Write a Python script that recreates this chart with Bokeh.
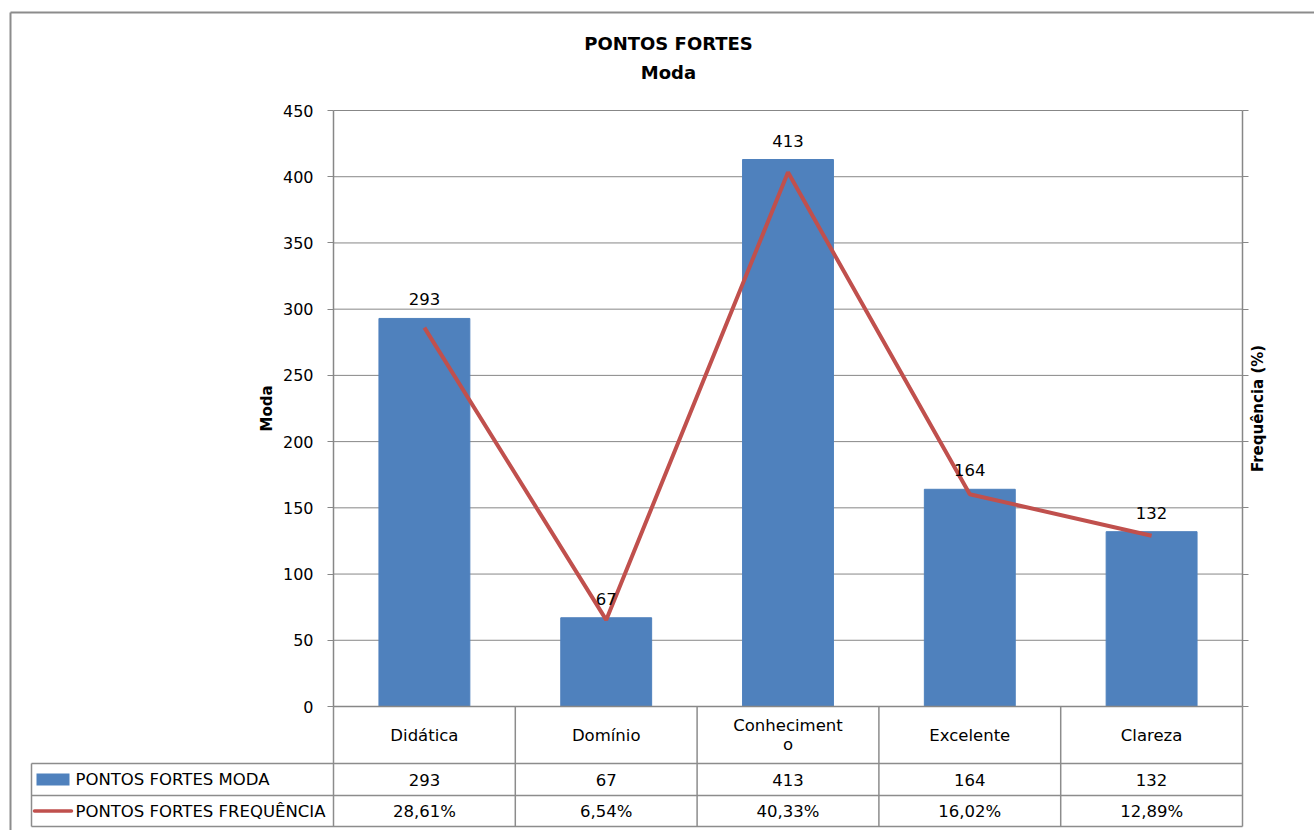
import math
from bokeh.plotting import figure
from bokeh.models import (Range1d, LinearAxis, SingleIntervalTicker, ColumnDataSource,
                          LabelSet, CustomLabelingPolicy)
from bokeh.core.properties import value
from bokeh.embed import file_html
from bokeh.resources import INLINE

# ---------------- data ----------------
categories = ["Didática", "Domínio", "Conhecimento", "Excelente", "Clareza"]
moda = [293, 67, 413, 164, 132]
frequencia = [28.61, 6.54, 40.33, 16.02, 12.89]
series_names = ["PONTOS FORTES MODA", "PONTOS FORTES FREQUÊNCIA"]
title_lines = ["PONTOS FORTES", "Moda"]
y_label = "Moda"
y2_label = "Frequência (%)"
y_max, y_step = 450, 50
y2_max, y2_step = 45, 5

# ---------------- style / layout ----------------
FONT = "DejaVu Sans"
GRID = "#878787"
TGRAY = "#8c8c8c"
BAR = "#4f81bd"
LINE = "#c0504d"
FS = "16.5px"

W, H = 1314, 830
PL, PR, PT, PB = 333, 1242, 110, 706          # plot area (px)
XS = (PR - PL) / len(categories)              # px per category
YS = (PB - PT) / y_max                        # px per unit
ROWS = [706, 763, 795, 826]                   # data-table row borders (px)
LEFTCOL = 31


def xd(px):
    return -0.5 + (px - PL) / XS


def yd(py):
    return (PB - py) / YS


def wrap(s, n=11):
    return "\n".join(s[i:i + n] for i in range(0, len(s), n))


def fmt_pct(v):
    return ("%.2f" % v).replace(".", ",") + "%"


xs_idx = list(range(len(categories)))
n = len(categories)

p = figure(width=W, height=H, x_range=Range1d(xd(0), xd(W)), y_range=Range1d(yd(H), yd(0)),
           output_backend="svg", toolbar_location=None,
           x_axis_location=None, y_axis_location=None, min_border=0)
p.extra_y_ranges = {"freq": Range1d(yd(H) * y2_max / y_max, yd(0) * y2_max / y_max)}
p.outline_line_color = None
p.xgrid.visible = False
p.ygrid.visible = False
p.background_fill_color = "white"
p.border_fill_color = "white"

# ---------------- axes ----------------
ax1 = LinearAxis(fixed_location=-0.5, bounds=(0, y_max),
                 ticker=SingleIntervalTicker(interval=y_step),
                 major_label_text_font=FONT, major_label_text_font_size="16px",
                 major_label_text_color="black", major_label_standoff=14,
                 major_tick_in=0, major_tick_out=6, minor_tick_line_color=None,
                 axis_line_color=GRID, major_tick_line_color=GRID, axis_line_width=1.5)
p.add_layout(ax1, "left")
ax2 = LinearAxis(y_range_name="freq", fixed_location=n - 0.5,
                 bounds=(0, y2_max), ticker=SingleIntervalTicker(interval=y2_step),
                 major_label_policy=CustomLabelingPolicy(code="return new Set()"),
                 major_label_text_font=FONT, major_label_standoff=0,
                 major_tick_in=0, major_tick_out=6, minor_tick_line_color=None,
                 axis_line_color=GRID, major_tick_line_color=GRID, axis_line_width=1.5)
p.add_layout(ax2, "right")

# gridlines across the plot area only
grid_vals = list(range(y_step, y_max + 1, y_step))
p.segment(x0=[-0.5] * len(grid_vals), x1=[n - 0.5] * len(grid_vals),
          y0=grid_vals, y1=grid_vals, line_color=GRID, line_width=1)

# ---------------- series ----------------
src = ColumnDataSource(dict(x=xs_idx, cat=categories, moda=moda, freq=frequencia,
                            moda_txt=[str(v) for v in moda]))
p.vbar(x="x", top="moda", width=0.5, source=src, fill_color=BAR, line_color=BAR)
p.line(x="x", y="freq", source=src, y_range_name="freq", line_color=LINE, line_width=4)
p.add_layout(LabelSet(x="x", y="moda", text="moda_txt", source=src,
                      text_align="center", text_baseline="middle", y_offset=19,
                      text_font=value(FONT), text_font_size=value(FS),
                      text_color="black"))

# ---------------- titles ----------------
p.text(x=[xd(668)] * 2, y=[yd(43), yd(72)], text=title_lines, text_align="center",
       text_baseline="middle", text_font=value(FONT), text_font_style="bold",
       text_font_size="18px", text_color="black")
p.text(x=[xd(266), xd(1257)], y=[yd(408), yd(408)], text=[y_label, y2_label],
       angle=math.pi / 2, text_align="center", text_baseline="middle",
       text_font=value(FONT), text_font_style="bold", text_font_size="15px",
       text_color="black")

# ---------------- data table ----------------
p.segment(x0=[-0.5], x1=[n - 0.5], y0=[0], y1=[0], line_color=GRID, line_width=1.5)
hy = [yd(r) for r in ROWS[1:]]
p.segment(x0=[xd(LEFTCOL)] * 3, x1=[n - 0.5] * 3, y0=hy, y1=hy,
          line_color=TGRAY, line_width=1.5)
vx = [k - 0.5 for k in range(n + 1)]
p.segment(x0=vx, x1=vx, y0=[0] * len(vx), y1=[yd(ROWS[3])] * len(vx),
          line_color=TGRAY, line_width=1.5)
p.segment(x0=[xd(LEFTCOL)], x1=[xd(LEFTCOL)], y0=[yd(ROWS[1])], y1=[yd(ROWS[3])],
          line_color=TGRAY, line_width=1.5)

row_c = [(ROWS[i] + ROWS[i + 1]) / 2 for i in range(3)]
p.text(x=xs_idx, y=[yd(row_c[0])] * n, text=[wrap(c) for c in categories],
       text_align="center", text_baseline="middle", text_font=value(FONT),
       text_font_size=FS, text_line_height=1.02, text_color="black")
p.text(x=xs_idx, y=[yd(row_c[1])] * n, text=[str(v) for v in moda],
       text_align="center", text_baseline="middle", text_font=value(FONT),
       text_font_size=FS, text_color="black")
p.text(x=xs_idx, y=[yd(row_c[2])] * n, text=[fmt_pct(v) for v in frequencia],
       text_align="center", text_baseline="middle", text_font=value(FONT),
       text_font_size=FS, text_color="black")

# legend keys
p.quad(left=[xd(36)], right=[xd(69)], top=[yd(row_c[1] - 6)], bottom=[yd(row_c[1] + 6)],
       fill_color=BAR, line_color=None)
p.segment(x0=[xd(34)], x1=[xd(71)], y0=[yd(row_c[2])], y1=[yd(row_c[2])],
          line_color=LINE, line_width=3.5, line_cap="round")
p.text(x=[xd(75)] * 2, y=[yd(row_c[1]), yd(row_c[2])], text=series_names,
       text_align="left", text_baseline="middle", text_font=value(FONT),
       text_font_size=FS, text_color="black")

# chart area border (left and top edges; the rest lies outside the window)
p.segment(x0=[xd(10), xd(10)], x1=[xd(10), xd(W + 10)], y0=[yd(12), yd(12)],
          y1=[yd(H + 10), yd(12)], line_color="#8c8c8c", line_width=2)

open("out.html", "w").write(file_html(p, INLINE))
